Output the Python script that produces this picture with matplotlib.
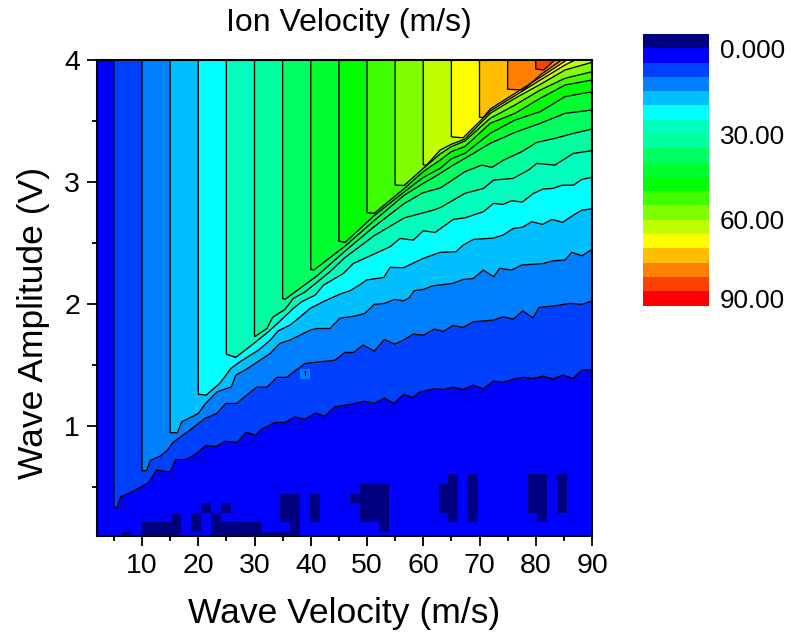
import matplotlib
matplotlib.use("Agg")
import matplotlib.pyplot as plt
import numpy as np
from matplotlib.cm import ScalarMappable
from matplotlib.colors import BoundaryNorm, ListedColormap
from matplotlib.ticker import MultipleLocator

plt.rcParams["font.family"] = ["Liberation Sans", "DejaVu Sans"]

# contour lines as (wave velocity, wave amplitude)
level_05 = [(5, 4), (5, 0.34), (5.5, 0.325), (6.2, 0.42), (8.17, 0.46), (11.1, 0.535), (12.6, 0.64), (15, 0.625),
            (16, 0.727), (17.9, 0.727), (19.7, 0.776), (21.3, 0.84), (23.2, 0.834), (24.8, 0.877), (26.9, 0.866),
            (28.5, 0.948), (30.3, 0.926), (31, 0.967), (33.6, 1.03), (35.4, 1.03), (37.2, 1.076), (39, 1.055),
            (40.8, 1.107), (42.5, 1.082), (44.3, 1.158), (47, 1.178), (49.6, 1.205), (51.3, 1.186), (53.1, 1.23),
            (54.8, 1.186), (56.5, 1.26), (58.2, 1.235), (59.2, 1.276), (61.8, 1.306), (63.6, 1.3), (65.3, 1.32),
            (67.1, 1.3), (68.9, 1.336), (70.7, 1.306), (72.5, 1.37), (74.2, 1.36), (76, 1.385), (77.8, 1.4),
            (79.6, 1.39), (81.3, 1.41), (83.1, 1.385), (84.8, 1.42), (86.6, 1.39), (88.2, 1.46), (90, 1.46)]
level_10 = [(10, 4), (10, 0.634), (10.8, 0.634), (11.5, 0.72), (13.2, 0.754), (14.5, 0.803), (15.6, 0.87),
            (18.5, 0.967), (21.2, 1.063), (23.3, 1.104), (24.9, 1.186), (26.8, 1.186), (29.2, 1.276), (30.4, 1.32),
            (32.2, 1.32), (34, 1.4), (35.7, 1.4), (39, 1.514), (41.6, 1.527), (44.3, 1.54), (46.1, 1.604),
            (47.6, 1.604), (49.3, 1.664), (51.3, 1.615), (53.1, 1.71), (54.9, 1.672), (56.5, 1.705), (58.2, 1.754),
            (60.1, 1.746), (61.9, 1.795), (63.6, 1.776), (65.3, 1.825), (67.1, 1.809), (68.9, 1.855), (72.5, 1.869),
            (74.2, 1.896), (76, 1.877), (77.7, 1.945), (79.5, 1.887), (80.6, 1.973), (83.1, 1.984), (86.1, 2.006),
            (88.2, 1.998), (90, 2.025)]
level_15 = [(15, 4), (15, 0.948), (16.3, 0.945), (17.05, 1.035), (20, 1.104), (21.2, 1.18), (23.3, 1.281),
            (25.9, 1.322), (26.65, 1.418), (28.3, 1.459), (32.8, 1.596), (34.5, 1.678), (36.3, 1.705), (39.9, 1.787),
            (41.1, 1.8), (43.4, 1.8), (45.2, 1.885), (47.9, 1.902), (49.6, 1.924), (51.3, 1.998), (53.1, 2.006),
            (54.9, 2.038), (56.5, 2.027), (57.5, 2.052), (58.4, 2.11), (60, 2.12), (61.7, 2.15), (65.3, 2.17),
            (67.1, 2.202), (68.9, 2.21), (70.7, 2.279), (72.5, 2.224), (73.6, 2.293), (75.7, 2.279), (77.5, 2.32),
            (81.3, 2.333), (83.1, 2.355), (85.2, 2.361), (86.4, 2.424), (88.2, 2.396), (90, 2.448)]
level_20 = [(20, 4), (20, 1.262), (21.4, 1.254), (23.9, 1.355), (25.8, 1.473), (27.4, 1.527), (30.7, 1.623),
            (32.8, 1.705), (34.2, 1.781), (36.3, 1.828), (37.8, 1.883), (39.9, 1.965), (42.2, 2.02), (45.2, 2.082),
            (47, 2.11), (48.8, 2.161), (49.9, 2.197), (53, 2.219), (54.1, 2.301), (56.5, 2.298), (60, 2.375),
            (63, 2.424), (65.8, 2.429), (67.1, 2.484), (68.9, 2.53), (72.5, 2.541), (74.2, 2.566), (76, 2.62),
            (77.6, 2.629), (79.3, 2.675), (81.2, 2.653), (82.9, 2.694), (84.8, 2.67), (86.7, 2.73), (88.2, 2.77),
            (90, 2.78)]
level_25 = [(25, 4), (25, 1.59), (26.65, 1.563), (29.5, 1.664), (32.45, 1.773), (34.4, 1.855), (36.9, 1.965),
            (38.4, 2.02), (40.8, 2.074), (42.24, 2.155), (45.8, 2.251), (47.57, 2.333), (50.83, 2.401), (54.1, 2.47),
            (55.87, 2.538), (58.24, 2.524), (60, 2.601), (62.09, 2.587), (65.35, 2.694), (67.42, 2.707), (70.7, 2.757),
            (72.5, 2.825), (74.2, 2.817), (75.7, 2.847), (77.6, 2.836), (79.6, 2.907), (81.3, 2.943), (83.1, 2.948),
            (84.6, 2.973), (86.7, 2.975), (88.2, 3.022), (90, 3.038)]
level_30 = [(30, 4), (30, 1.732), (32.2, 1.8), (33.2, 1.891), (35.4, 1.956), (36.9, 2.047), (39, 2.1), (43.4, 2.265),
            (46.09, 2.382), (51.25, 2.56), (56.64, 2.707), (61.8, 2.77), (63, 2.79), (67.4, 2.907), (70.7, 2.948),
            (72.5, 3.016), (76, 3.03), (78.7, 3.098), (80.2, 3.153), (83.4, 3.139), (86.7, 3.235), (90, 3.257)]
level_35 = [(35, 4), (35, 2.047), (35.4, 2.038), (38.09, 2.129), (41.05, 2.229), (46.09, 2.434), (51.25, 2.634),
            (56.64, 2.825), (60, 2.913), (63, 2.951), (65, 3.01), (67.4, 3.085), (70.4, 3.139), (72.2, 3.12),
            (74.3, 3.18), (77.5, 3.249), (80.2, 3.325), (83.4, 3.358), (86.7, 3.399), (90, 3.434)]
level_40 = [(40, 4), (40, 2.285), (40.5, 2.278), (46.09, 2.475), (51.25, 2.683), (56.64, 2.893), (60, 2.989),
            (63, 3.07), (65, 3.13), (67.4, 3.194), (71.9, 3.317), (76.3, 3.407), (80.8, 3.481), (85.2, 3.563),
            (90, 3.59)]
level_45 = [(45, 4), (45, 2.516), (46.1, 2.505), (51.25, 2.724), (56.64, 2.92), (60, 3.038), (63, 3.112), (65, 3.19),
            (67.4, 3.235), (71.9, 3.399), (76.3, 3.508), (80.8, 3.577), (85.2, 3.7), (90, 3.74)]
level_50 = [(50, 4), (50, 2.751), (51.25, 2.743), (56.64, 2.948), (60, 3.085), (63, 3.18), (65, 3.25), (67.4, 3.29),
            (71.9, 3.481), (76.3, 3.563), (80.8, 3.686), (85.2, 3.795), (90, 3.836)]
level_55 = [(55, 4), (55, 2.975), (56.6, 2.972), (60, 3.112), (63, 3.23), (65, 3.29), (67.4, 3.336), (71.9, 3.522),
            (76.3, 3.631), (80.8, 3.754), (85.2, 3.85), (90, 3.904)]
level_60 = [(60, 4), (60, 3.14), (60.6, 3.139), (63, 3.262), (65, 3.31), (67.4, 3.352), (71.9, 3.563), (76.3, 3.686),
            (80.8, 3.8), (85.2, 3.918), (90, 3.981)]
level_65 = [(65, 4), (65, 3.37), (67.1, 3.363), (71.9, 3.582), (76.3, 3.708), (80.8, 3.836), (85.2, 3.959), (87, 4)]
level_70 = [(70, 4), (70, 3.53), (70.7, 3.53), (71.9, 3.598), (76.3, 3.727), (80.8, 3.858), (85.5, 4)]
level_75 = [(75, 4), (75, 3.76), (77.8, 3.754), (80.8, 3.877), (84.6, 4)]
level_80 = [(80, 4), (80, 3.926), (81.4, 3.918), (83.4, 4)]

contour_levels = [5, 10, 15, 20, 25, 30, 35, 40, 45, 50, 55, 60, 65, 70, 75, 80]
contour_lines = [level_05, level_10, level_15, level_20, level_25, level_30, level_35, level_40,
                 level_45, level_50, level_55, level_60, level_65, level_70, level_75, level_80]

# cells below zero near the bottom
navy_left = [6.39, 9.94, 15.27, 18.71, 20.49, 22.27, 24.05, 24.05, 31.1, 34.53, 36.3, 39.87,
             47.0, 48.76, 52.19, 62.74, 64.46, 68.0, 78.56, 80.28, 83.84]
navy_right = [8.16, 15.27, 16.93, 20.49, 22.27, 24.05, 25.82, 31.1, 36.3, 38.09, 38.09, 41.64,
              48.76, 52.19, 53.9, 64.46, 66.24, 69.73, 80.28, 82.06, 85.61]
navy_bottom = [0.1, 0.1, 0.1, 0.134, 0.292, 0.1, 0.292, 0.1, 0.1, 0.216, 0.1, 0.216,
               0.372, 0.216, 0.134, 0.292, 0.216, 0.216, 0.292, 0.216, 0.292]
navy_top = [0.134, 0.216, 0.292, 0.292, 0.372, 0.292, 0.372, 0.216, 0.134, 0.448, 0.216, 0.448,
            0.448, 0.525, 0.525, 0.525, 0.607, 0.607, 0.607, 0.607, 0.607]

# lone raised cell and its tiny contour below the 10 line
spot_x = [38.09, 39.85]
spot_y = [1.39, 1.465]
spot_line_x = [39.0, 39.0]
spot_line_y = [1.42, 1.455]

color_levels = [-5, 0, 5, 10, 15, 20, 25, 30, 35, 40, 45, 50, 55, 60, 65, 70, 75, 80, 85, 95]
band_colors = ["#000080", "#0000ff", "#0040ff", "#0080ff", "#00bfff", "#00ffff", "#00ffbf", "#00ff9f", "#00ff60",
               "#00ff30", "#00ff00", "#40ff00", "#80ff00", "#bfff00", "#ffff00", "#ffbf00", "#ff8000", "#ff4000",
               "#ff0000"]
colorbar_ticks = [0, 30, 60, 90]
colorbar_labels = ["0.000", "30.00", "60.00", "90.00"]

W, H = 791, 641
fig = plt.figure(figsize=(W / 100, H / 100), dpi=100)
ax = fig.add_axes([97 / W, 1 - 536 / H, 495 / W, 476 / H])
ax.set_facecolor("#0000ff")

# painter's order: each band lies over the ones below it
for level, line in zip(contour_levels, contour_lines):
    pts = list(line)
    if pts[-1][1] < 4:
        pts.append((90, 4))
    xs, ys = zip(*pts)
    ax.fill(xs, ys, color=band_colors[color_levels.index(level)], lw=0, zorder=2)

widths = np.array(navy_right) - np.array(navy_left)
heights = np.array(navy_top) - np.array(navy_bottom)
ax.bar(navy_left, heights, widths, bottom=navy_bottom, align="edge", color="#000080", lw=0, zorder=3)
ax.bar(spot_x[0], spot_y[1] - spot_y[0], spot_x[1] - spot_x[0], bottom=spot_y[0], align="edge",
       color="#0080ff", lw=0, zorder=3)

for line in contour_lines:
    xs, ys = zip(*line)
    ax.plot(xs, ys, color="black", lw=0.95, zorder=4, solid_joinstyle="miter")
ax.plot(spot_line_x, spot_line_y, color="black", lw=0.95, zorder=4)

ax.set_xlim(2, 90)
ax.set_ylim(0.1, 4)
ax.xaxis.set_major_locator(MultipleLocator(10))
ax.xaxis.set_minor_locator(MultipleLocator(5))
ax.yaxis.set_major_locator(MultipleLocator(1))
ax.yaxis.set_minor_locator(MultipleLocator(0.5))
ax.tick_params(which="major", length=7.2, width=1.3, labelsize=20.5, pad=5)
ax.tick_params(which="minor", length=3.8, width=1.3)
for spine in ax.spines.values():
    spine.set_linewidth(1.5)

ax.set_xlabel("Wave Velocity (m/s)", fontsize=25.5, labelpad=13)
ax.set_ylabel("Wave Amplitude (V)", fontsize=25.5)
ax.yaxis.set_label_coords(-0.095, 0.4485)
ax.set_title("Ion Velocity (m/s)", fontsize=23, pad=21, x=0.508)

cax = fig.add_axes([643 / W, 1 - 305.5 / H, 66 / W, 271.5 / H])
norm = BoundaryNorm(color_levels, len(band_colors))
cb = fig.colorbar(ScalarMappable(norm=norm, cmap=ListedColormap(band_colors)), cax=cax,
                  ticks=colorbar_ticks, spacing="uniform")
cb.set_ticklabels(colorbar_labels)
cb.outline.set_visible(False)
cb.minorticks_off()
cax.invert_yaxis()
cax.tick_params(length=0, labelsize=18.7, pad=8)

fig.savefig("out.png", dpi=100)
